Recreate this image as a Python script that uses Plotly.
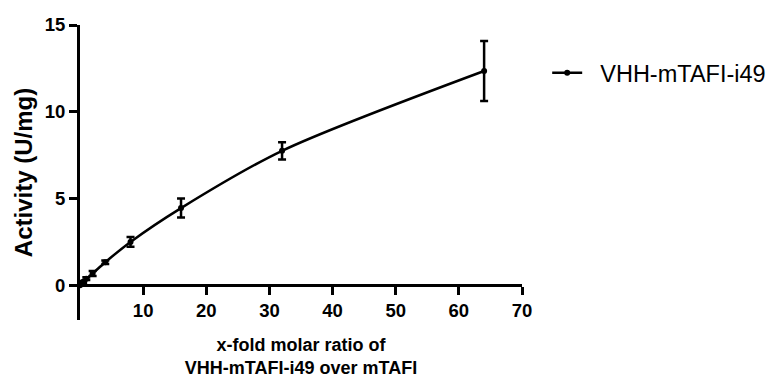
import plotly.graph_objects as go

ratio = [0, 0.5, 1, 2, 4, 8, 16, 32, 64]
activity = [0.0, 0.2, 0.38, 0.68, 1.33, 2.5, 4.45, 7.75, 12.35]
sem = [0.0, 0.05, 0.08, 0.15, 0.1, 0.28, 0.55, 0.5, 1.73]
series_name = "VHH-mTAFI-i49"
x_ticks = [10, 20, 30, 40, 50, 60, 70]
y_ticks = [0, 5, 10, 15]

FONT = "Liberation Sans, Arial, sans-serif"

fig = go.Figure()
fig.add_trace(go.Scatter(
    x=ratio, y=activity, name="\u00a0\u00a0" + series_name,
    mode="lines+markers",
    line=dict(color="black", width=2.5, shape="spline", smoothing=0.8),
    marker=dict(color="black", size=6),
    error_y=dict(type="data", array=sem, visible=True, color="black",
                 thickness=2.5, width=4),
    showlegend=True,
))

ymin, ymax = -2, 15
fig.update_layout(
    width=772, height=378,
    margin=dict(l=80, r=250, t=25, b=58, autoexpand=False),
    paper_bgcolor="white", plot_bgcolor="white",
    font=dict(family=FONT, color="black"),
    showlegend=True,
    legend=dict(x=1.057, xanchor="left", y=0.837, yanchor="middle",
                font=dict(family=FONT, size=23.5, color="black"),
                bgcolor="rgba(0,0,0,0)", itemwidth=30),
    xaxis=dict(
        range=[0, 70], anchor="free", position=(0 - ymin) / (ymax - ymin),
        tickvals=x_ticks, ticks="outside", ticklen=8, tickwidth=3,
        tickcolor="black", showline=True, linecolor="black", linewidth=3,
        showgrid=False, zeroline=False, automargin=False,
        tickfont=dict(family=FONT, size=18.5, weight="bold", color="black"),
        title=dict(text="x-fold molar ratio of<br>VHH-mTAFI-i49 over mTAFI",
                   font=dict(family=FONT, size=18, weight="bold", color="black"),
                   standoff=17),
    ),
    yaxis=dict(
        range=[ymin, ymax], tickvals=y_ticks, ticks="outside", ticklen=8,
        tickwidth=3, tickcolor="black", showline=True, linecolor="black",
        linewidth=3, showgrid=False, zeroline=False, automargin=False,
        tickfont=dict(family=FONT, size=18.5, weight="bold", color="black"),
        title=dict(text="Activity (U/mg)",
                   font=dict(family=FONT, size=24, weight="bold", color="black"),
                   standoff=6),
    ),
)

fig.write_html("out.html")
